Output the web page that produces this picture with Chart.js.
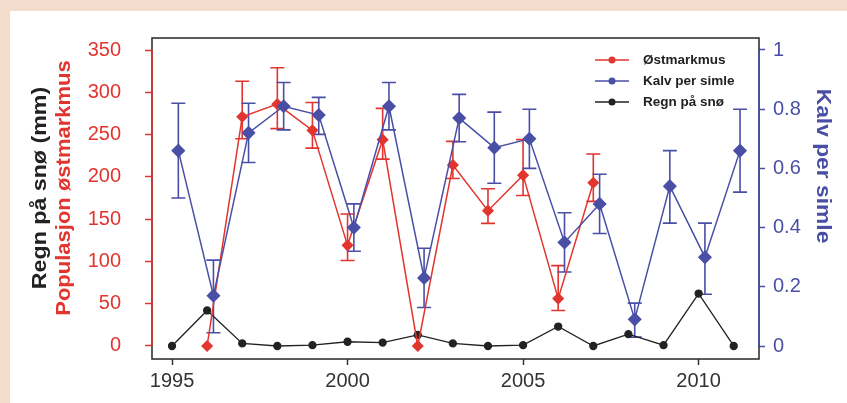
<!DOCTYPE html>
<html>
<head>
<meta charset="utf-8">
<title>Østmarkmus, kalv per simle og regn på snø</title>
<style>
  body { margin: 0; background: #f3dccb; }
  .wrap { width: 847px; height: 403px; position: relative; }
</style>
</head>
<body>
<div class="wrap"><canvas id="chart"></canvas></div>
<script src="https://cdn.jsdelivr.net/npm/chart.js"></script>
<script>
// values
const years = [1995, 1996, 1997, 1998, 1999, 2000, 2001, 2002, 2003, 2004, 2005, 2006, 2007, 2008, 2009, 2010, 2011];
const musValues = [null, 0, 271, 286, 255, 119, 244, 0, 214, 160, 202, 56, 193, null, null, null, null];
const musLow    = [null, null, 245, 257, 234, 101, 221, null, 198, 145, 178, 42, 171, null, null, null, null];
const musHigh   = [null, null, 313, 329, 288, 156, 281, null, 242, 186, 244, 95, 227, null, null, null, null];
const kalvValues = [0.66, 0.17, 0.72, 0.81, 0.78, 0.40, 0.81, 0.23, 0.77, 0.67, 0.70, 0.35, 0.48, 0.09, 0.54, 0.30, 0.66];
const kalvLow    = [0.50, 0.045, 0.62, 0.73, 0.715, 0.32, 0.73, 0.13, 0.69, 0.55, 0.60, 0.25, 0.38, 0.03, 0.415, 0.175, 0.52];
const kalvHigh   = [0.82, 0.29, 0.82, 0.89, 0.84, 0.48, 0.89, 0.33, 0.85, 0.79, 0.80, 0.45, 0.58, 0.145, 0.66, 0.415, 0.80];
const regnValues = [0, 42, 3, 0, 1, 5, 4, 13, 3, 0, 1, 23, 0, 14, 1, 62, 0];
const yearTicks = [1995, 2000, 2005, 2010];
const leftTicks = [0, 50, 100, 150, 200, 250, 300, 350];
const rightTicks = [0, 0.2, 0.4, 0.6, 0.8, 1];

const RED = '#e2352f';
const BLUE = '#4a4fa6';
const BLACK = '#222222';
const kalvShift = 0.18; // blue series is drawn slightly right of the year

const pts = (vals, shift) => years.map((yr, i) => ({ x: yr + shift, y: vals[i] }));

const errorBars = {
  id: 'errorBars',
  beforeDatasetsDraw(chart) {
    const ctx = chart.ctx;
    chart.data.datasets.forEach(ds => {
      if (!ds.errLow) return;
      const xs = chart.scales[ds.xAxisID || 'x'];
      const ys = chart.scales[ds.yAxisID];
      ctx.save();
      ctx.strokeStyle = ds.borderColor;
      ctx.lineWidth = 1.6;
      ds.data.forEach((p, i) => {
        if (ds.errLow[i] == null || ds.errHigh[i] == null) return;
        const px = xs.getPixelForValue(p.x);
        const lo = ys.getPixelForValue(ds.errLow[i]);
        const hi = ys.getPixelForValue(ds.errHigh[i]);
        ctx.beginPath();
        ctx.moveTo(px, lo); ctx.lineTo(px, hi);
        ctx.moveTo(px - 7, lo); ctx.lineTo(px + 7, lo);
        ctx.moveTo(px - 7, hi); ctx.lineTo(px + 7, hi);
        ctx.stroke();
      });
      ctx.restore();
    });
  }
};

// rotated title, stretched a little along the text like the original
function vTitle(ctx, text, x, y, angle, color, stretch) {
  ctx.save();
  ctx.translate(x, y);
  ctx.rotate(angle);
  ctx.scale(stretch, 1);
  ctx.fillStyle = color;
  ctx.fillText(text, 0, 0);
  ctx.restore();
}

const decor = {
  id: 'decor',
  beforeDraw(chart) {
    const ctx = chart.ctx;
    ctx.save();
    ctx.fillStyle = '#f3dccb';
    ctx.fillRect(0, 0, chart.width, chart.height);
    ctx.fillStyle = '#ffffff';
    ctx.fillRect(10, 11, chart.width - 10, chart.height - 11);
    ctx.restore();
  },
  afterDraw(chart) {
    const ctx = chart.ctx;
    const a = chart.chartArea;
    const yl = chart.scales.yLeft, yr = chart.scales.yRight;
    ctx.save();
    // frame
    ctx.strokeStyle = '#333333';
    ctx.lineWidth = 1.6;
    ctx.strokeRect(a.left, a.top, a.right - a.left, a.bottom - a.top);
    // coloured axis lines
    ctx.strokeStyle = RED;
    ctx.beginPath();
    ctx.moveTo(a.left, yl.getPixelForValue(0));
    ctx.lineTo(a.left, yl.getPixelForValue(350));
    ctx.stroke();
    ctx.strokeStyle = BLUE;
    ctx.beginPath();
    ctx.moveTo(a.right, yr.getPixelForValue(0));
    ctx.lineTo(a.right, yr.getPixelForValue(1));
    ctx.stroke();

    // axis titles
    ctx.font = 'bold 20px "Liberation Sans", Arial, sans-serif';
    ctx.textAlign = 'center';
    ctx.textBaseline = 'middle';
    vTitle(ctx, 'Regn på snø (mm)', 40, 188, -Math.PI / 2, BLACK, 1.16);
    vTitle(ctx, 'Populasjon østmarkmus', 64, 188, -Math.PI / 2, RED, 1.1);
    vTitle(ctx, 'Kalv per simle', 823, 166, Math.PI / 2, BLUE, 1.14);

    // legend
    ctx.font = 'bold 13.5px "Liberation Sans", Arial, sans-serif';
    ctx.textAlign = 'left';
    [0, 1, 2].forEach(r => {
      const ds = chart.data.datasets[r];
      const y = 60 + r * 21;
      ctx.strokeStyle = ds.borderColor;
      ctx.lineWidth = 1.6;
      ctx.beginPath();
      ctx.moveTo(595, y); ctx.lineTo(629, y);
      ctx.stroke();
      ctx.fillStyle = ds.borderColor;
      ctx.beginPath();
      ctx.arc(612, y, 3.5, 0, Math.PI * 2);
      ctx.fill();
      ctx.fillStyle = BLACK;
      ctx.fillText(ds.label, 643, y);
    });
    ctx.restore();
  }
};

new Chart(document.getElementById('chart'), {
  type: 'line',
  data: {
    datasets: [
      {
        label: 'Østmarkmus',
        data: pts(musValues, 0),
        errLow: musLow, errHigh: musHigh,
        yAxisID: 'yLeft',
        borderColor: RED, backgroundColor: RED,
        borderWidth: 1.5, pointStyle: 'rectRot', pointRadius: 5,
        order: 1
      },
      {
        label: 'Kalv per simle',
        data: pts(kalvValues, kalvShift),
        errLow: kalvLow, errHigh: kalvHigh,
        yAxisID: 'yRight',
        borderColor: BLUE, backgroundColor: BLUE,
        borderWidth: 1.5, pointStyle: 'rectRot', pointRadius: 6,
        order: 0
      },
      {
        label: 'Regn på snø',
        data: pts(regnValues, 0),
        yAxisID: 'yLeft',
        borderColor: BLACK, backgroundColor: BLACK,
        borderWidth: 1.3, pointRadius: 3.5,
        order: 2
      }
    ]
  },
  options: {
    responsive: true,
    maintainAspectRatio: false,
    animation: false,
    layout: { padding: { top: 38, left: 0, right: 0, bottom: 0 } },
    plugins: { legend: { display: false }, tooltip: { enabled: false } },
    scales: {
      x: {
        type: 'linear',
        min: 1994.43, max: 2011.72,
        afterBuildTicks: s => { s.ticks = yearTicks.map(v => ({ value: v })); },
        afterFit: s => { s.height = 44; },
        border: { display: false },
        grid: { drawOnChartArea: false, tickLength: 6, tickWidth: 1.5, color: '#333333' },
        ticks: { color: '#333333', padding: 4, font: { family: '"Liberation Sans", Arial', size: 20 }, callback: v => String(v) }
      },
      yLeft: {
        type: 'linear', position: 'left',
        min: -15.4, max: 364.2,
        afterBuildTicks: s => { s.ticks = leftTicks.map(v => ({ value: v })); },
        afterFit: s => { s.width = 152; },
        border: { display: false },
        grid: { drawOnChartArea: false, tickLength: 7, tickWidth: 1.5, color: RED },
        ticks: { color: RED, padding: 24, font: { family: '"Liberation Sans", Arial', size: 20 } }
      },
      yRight: {
        type: 'linear', position: 'right',
        min: -0.0439, max: 1.0405,
        afterBuildTicks: s => { s.ticks = rightTicks.map(v => ({ value: v })); },
        afterFit: s => { s.width = 88; },
        border: { display: false },
        grid: { drawOnChartArea: false, tickLength: 6, tickWidth: 1.5, color: BLUE },
        ticks: { color: BLUE, padding: 8, font: { family: '"Liberation Sans", Arial', size: 20 }, callback: v => String(v) }
      }
    }
  },
  plugins: [errorBars, decor]
});
</script>
</body>
</html>
